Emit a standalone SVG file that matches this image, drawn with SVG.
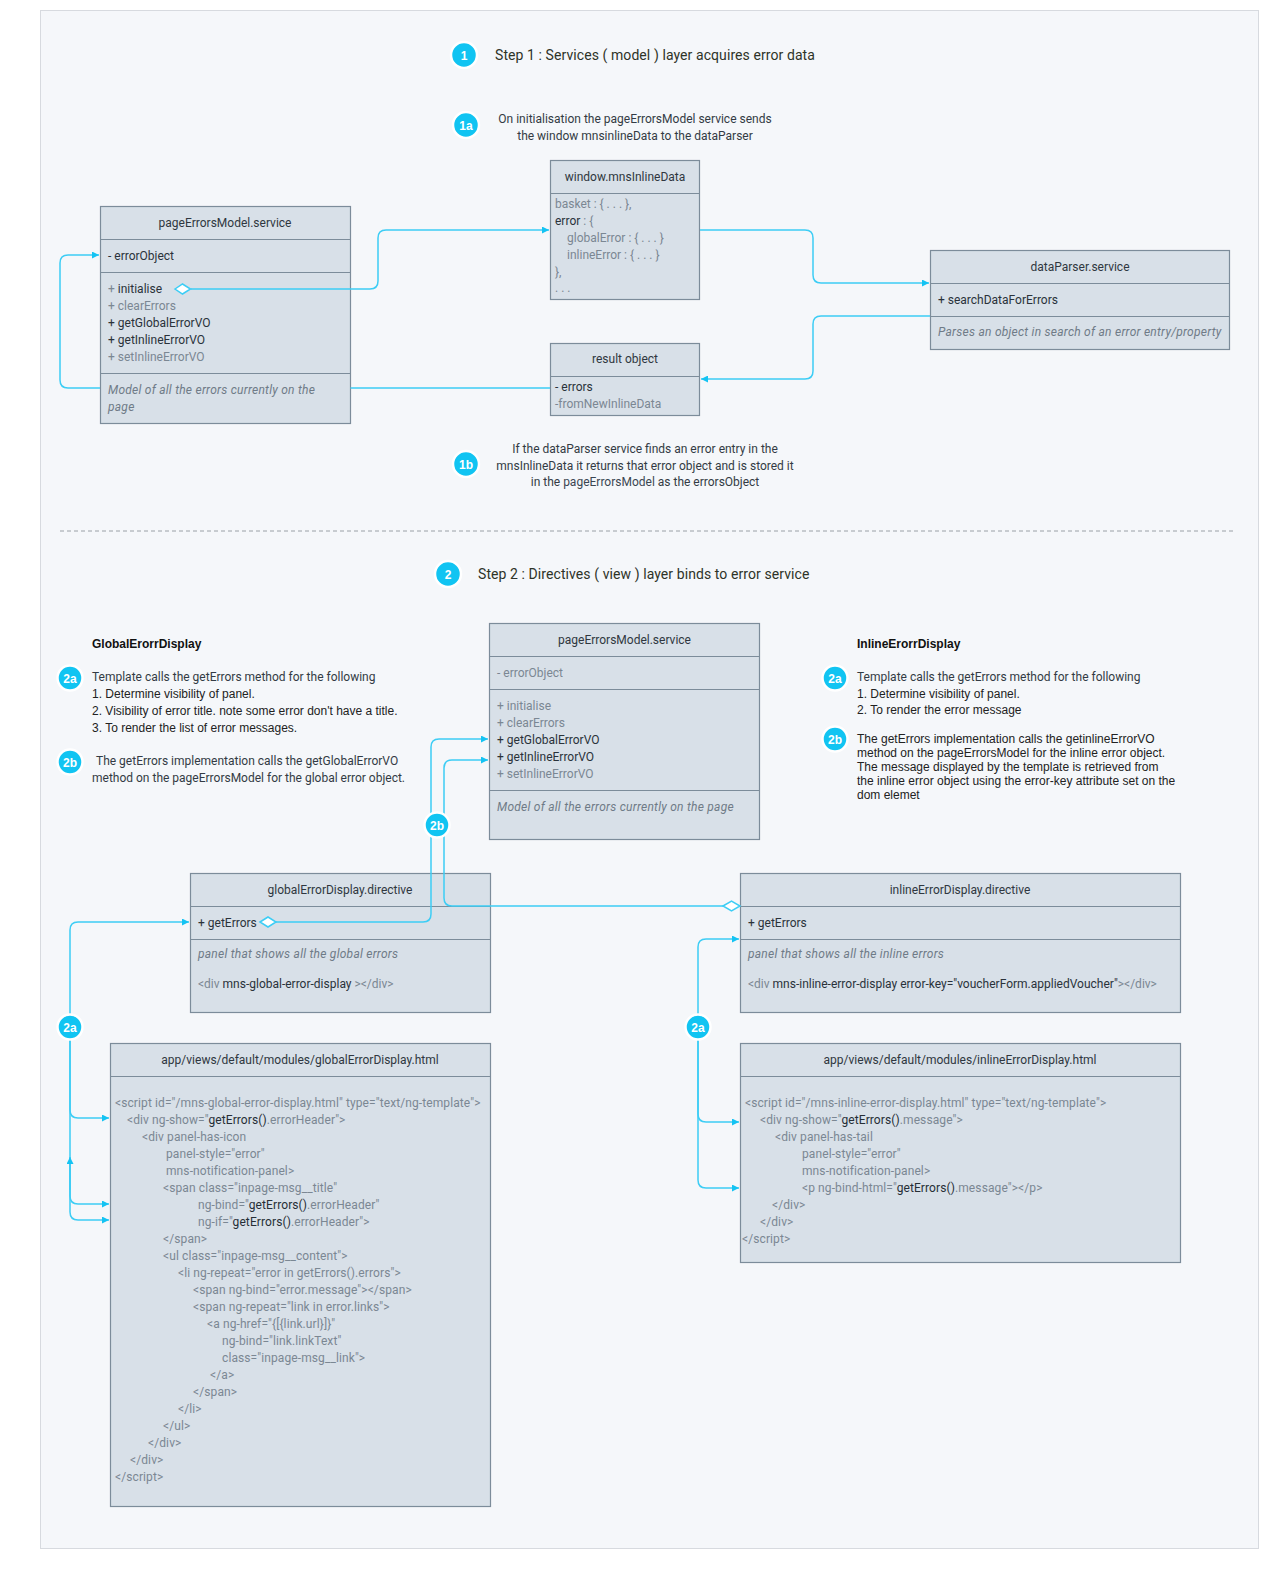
<svg xmlns="http://www.w3.org/2000/svg" width="1280" height="1570" viewBox="0 0 1280 1570">
<style>
  text { font-family: Roboto, "Liberation Sans", sans-serif; font-size: 12px; fill: #333b44; }
  .box { fill: #d8e0e8; stroke: #7c8c9a; stroke-width: 1.2; }
  .sep { stroke: #7c8c9a; stroke-width: 1.2; }
  .t { text-anchor: middle; fill: #2f3740; }
  .dk { fill: #2a323a; }
  .gr { fill: #7b8793; }
  .it { font-style: italic; fill: #6f7b87; letter-spacing: 0.25px; }
  .code { fill: #7b8793; letter-spacing: 0.1px; }
  .code tspan.k { fill: #262e36; }
  .note { font-family: "Liberation Sans", Arial, sans-serif; fill: #222; }
  .bold { font-family: "Liberation Sans", Arial, sans-serif; font-weight: bold; fill: #111; }
  .step { font-size: 14px; fill: #2e3328; letter-spacing: 0.08px; }
  .badge circle { fill: #11c4f2; stroke: #ffffff; stroke-width: 2.5; }
  .badge text { fill: #ffffff; font-weight: bold; font-size: 12px; text-anchor: middle; font-family: "Liberation Sans", Arial, sans-serif; }
  .wire { fill: none; stroke: #3dcdf5; stroke-width: 1.5; }
  .wire.arr { marker-end: url(#arrow); }
  .dia { fill: #ffffff; stroke: #3dcdf5; stroke-width: 1.5; }
</style>
<defs>
  <marker id="arrow" viewBox="0 0 10 10" refX="10" refY="5" markerWidth="7" markerHeight="7" markerUnits="userSpaceOnUse" orient="auto">
    <path d="M0,0 L10,5 L0,10 z" fill="#14c3f3"/>
  </marker>
</defs>

<!-- page frame -->
<rect x="0" y="0" width="1280" height="1570" fill="#ffffff"/>
<rect x="40.5" y="10.5" width="1218" height="1538" fill="#f5f7fa" stroke="#d7dadf" stroke-width="1"/>

<!-- step 1 heading and notes -->
<g id="step1">
  <g class="badge"><circle cx="464" cy="55" r="13"/><text x="464" y="59.5">1</text></g>
  <text class="step" x="495" y="60">Step 1 : Services ( model ) layer acquires error data</text>
</g>
<g id="note1a">
  <g class="badge"><circle cx="466" cy="125" r="13"/><text x="466" y="129.5">1a</text></g>
  <text x="635" y="123" text-anchor="middle">On initialisation the pageErrorsModel service sends</text>
  <text x="635" y="140" text-anchor="middle">the window mnsinlineData to the dataParser</text>
</g>
<g id="note1b">
  <g class="badge"><circle cx="466" cy="464" r="13"/><text x="466" y="468.5">1b</text></g>
  <text x="645" y="453" text-anchor="middle">If the dataParser service finds an error entry in the</text>
  <text x="645" y="470" text-anchor="middle">mnsInlineData it returns that error object and is stored it</text>
  <text x="645" y="486" text-anchor="middle">in the <tspan fill="#3b4652">pageErrorsModel</tspan> as the errorsObject</text>
</g>

<!-- section divider -->
<line x1="60" y1="531" x2="1236" y2="531" stroke="#9aa0a6" stroke-width="1" stroke-dasharray="4 3"/>

<!-- step 2 heading and notes -->
<g id="step2">
  <g class="badge"><circle cx="448" cy="574" r="13"/><text x="448" y="578.5">2</text></g>
  <text class="step" x="478" y="579">Step 2 : Directives ( view ) layer binds to error service</text>
</g>
<g id="globalNotes">
  <text class="bold" x="92" y="648">GlobalErorrDisplay</text>
  <g class="badge"><circle cx="70" cy="678" r="12.5"/><text x="70" y="682.5">2a</text></g>
  <text x="92" y="681">Template calls the getErrors method for the following</text>
  <text class="note" x="92" y="698">1. Determine visibility of panel.</text>
  <text class="note" x="92" y="715">2. Visibility of error title. note some error don't have a title.</text>
  <text class="note" x="92" y="732">3. To render the list of error messages.</text>
  <g class="badge"><circle cx="70" cy="762" r="12.5"/><text x="70" y="766.5">2b</text></g>
  <text x="96" y="765">The getErrors implementation calls the getGlobalErrorVO</text>
  <text x="92" y="782">method on the pageErrorsModel for the global error object.</text>
</g>
<g id="inlineNotes">
  <text class="bold" x="857" y="648">InlineErorrDisplay</text>
  <g class="badge"><circle cx="835" cy="678" r="12.5"/><text x="835" y="682.5">2a</text></g>
  <text x="857" y="681">Template calls the getErrors method for the following</text>
  <text class="note" x="857" y="698">1. Determine visibility of panel.</text>
  <text class="note" x="857" y="714">2. To render the error message</text>
  <g class="badge"><circle cx="835" cy="739" r="12.5"/><text x="835" y="743.5">2b</text></g>
  <text class="note" x="857" y="743">The getErrors implementation calls the getinlineErrorVO</text>
  <text class="note" x="857" y="757">method on the pageErrorsModel for the inline error object.</text>
  <text class="note" x="857" y="771">The message displayed by the template is retrieved from</text>
  <text class="note" x="857" y="785">the inline error object using the error-key attribute set on the</text>
  <text class="note" x="857" y="799">dom elemet</text>
</g>

<!-- step 1 classes -->
<g id="pageErrorsModel1">
  <rect class="box" x="100.5" y="206.5" width="250" height="217"/>
  <line class="sep" x1="100.5" y1="239.5" x2="350.5" y2="239.5"/>
  <line class="sep" x1="100.5" y1="272.5" x2="350.5" y2="272.5"/>
  <line class="sep" x1="100.5" y1="373.5" x2="350.5" y2="373.5"/>
  <text class="t" x="225" y="227">pageErrorsModel.service</text>
  <text class="dk" x="108" y="260">- errorObject</text>
  <text class="dk" x="108" y="293"><tspan class="gr">+ </tspan>initialise</text>
  <text class="gr" x="108" y="310">+ clearErrors</text>
  <text class="dk" x="108" y="327">+ getGlobalErrorVO</text>
  <text class="dk" x="108" y="344">+ getInlineErrorVO</text>
  <text class="gr" x="108" y="361">+ setInlineErrorVO</text>
  <text class="it" x="108" y="394">Model of all the errors currently on the</text>
  <text class="it" x="108" y="411">page</text>
</g>
<g id="windowData">
  <rect class="box" x="550.5" y="160.5" width="149" height="139"/>
  <line class="sep" x1="550.5" y1="193.5" x2="699.5" y2="193.5"/>
  <text class="t" x="625" y="181">window.mnsInlineData</text>
  <text class="gr" x="555" y="208">basket : { . . . },</text>
  <text class="gr" x="555" y="225"><tspan class="dk">error</tspan> : {</text>
  <text class="gr" x="567" y="242">globalError : { . . . }</text>
  <text class="gr" x="567" y="259">inlineError  : { . . . }</text>
  <text class="gr" x="555" y="276">},</text>
  <text class="gr" x="555" y="292">. . .</text>
</g>
<g id="resultObject">
  <rect class="box" x="550.5" y="343.5" width="149" height="72"/>
  <line class="sep" x1="550.5" y1="376.5" x2="699.5" y2="376.5"/>
  <text class="t" x="625" y="363">result object</text>
  <text class="dk" x="555" y="391">- errors</text>
  <text class="gr" x="555" y="408">-fromNewInlineData</text>
</g>
<g id="dataParser">
  <rect class="box" x="930.5" y="250.5" width="299" height="99"/>
  <line class="sep" x1="930.5" y1="283.5" x2="1229.5" y2="283.5"/>
  <line class="sep" x1="930.5" y1="316.5" x2="1229.5" y2="316.5"/>
  <text class="t" x="1080" y="271">dataParser.service</text>
  <text class="dk" x="938" y="304">+ searchDataForErrors</text>
  <text class="it" x="938" y="336">Parses an object in search of an error entry/property</text>
</g>

<!-- step 2 classes -->
<g id="pageErrorsModel2">
  <rect class="box" x="489.5" y="623.5" width="270" height="216"/>
  <line class="sep" x1="489.5" y1="656.5" x2="759.5" y2="656.5"/>
  <line class="sep" x1="489.5" y1="689.5" x2="759.5" y2="689.5"/>
  <line class="sep" x1="489.5" y1="790.5" x2="759.5" y2="790.5"/>
  <text class="t" x="624.5" y="644">pageErrorsModel.service</text>
  <text class="gr" x="497" y="677">- errorObject</text>
  <text class="gr" x="497" y="710">+ initialise</text>
  <text class="gr" x="497" y="727">+ clearErrors</text>
  <text class="dk" x="497" y="744">+ getGlobalErrorVO</text>
  <text class="dk" x="497" y="761">+ getInlineErrorVO</text>
  <text class="gr" x="497" y="778">+ setInlineErrorVO</text>
  <text class="it" x="497" y="811">Model of all the errors currently on the page</text>
</g>
<g id="globalDirective">
  <rect class="box" x="190.5" y="873.5" width="300" height="139"/>
  <line class="sep" x1="190.5" y1="906.5" x2="490.5" y2="906.5"/>
  <line class="sep" x1="190.5" y1="939.5" x2="490.5" y2="939.5"/>
  <text class="t" x="340" y="894">globalErrorDisplay.directive</text>
  <text class="dk" x="198" y="927">+ getErrors</text>
  <text class="it" x="198" y="958">panel that shows all the global errors</text>
  <text class="gr" x="198" y="988">&lt;div <tspan class="dk">mns-global-error-display</tspan> &gt;&lt;/div&gt;</text>
</g>
<g id="inlineDirective">
  <rect class="box" x="740.5" y="873.5" width="440" height="139"/>
  <line class="sep" x1="740.5" y1="906.5" x2="1180.5" y2="906.5"/>
  <line class="sep" x1="740.5" y1="939.5" x2="1180.5" y2="939.5"/>
  <text class="t" x="960" y="894">inlineErrorDisplay.directive</text>
  <text class="dk" x="748" y="927">+ getErrors</text>
  <text class="it" x="748" y="958">panel that shows all the inline errors</text>
  <text class="gr" x="748" y="988">&lt;div <tspan class="dk">mns-inline-error-display error-key="voucherForm.appliedVoucher"</tspan>&gt;&lt;/div&gt;</text>
</g>
<g id="globalTemplate">
  <rect class="box" x="110.5" y="1043.5" width="380" height="463"/>
  <line class="sep" x1="110.5" y1="1076.5" x2="490.5" y2="1076.5"/>
  <text class="t" x="300" y="1064">app/views/default/modules/globalErrorDisplay.html</text>
  <text class="code" x="115" y="1107">&lt;script id="/mns-global-error-display.html" type="text/ng-template"&gt;</text>
  <text class="code" x="127" y="1124">&lt;div ng-show="<tspan class="k">getErrors()</tspan>.errorHeader"&gt;</text>
  <text class="code" x="142" y="1141">&lt;div panel-has-icon</text>
  <text class="code" x="166" y="1158">panel-style="error"</text>
  <text class="code" x="166" y="1175">mns-notification-panel&gt;</text>
  <text class="code" x="163" y="1192">&lt;span class="inpage-msg__title"</text>
  <text class="code" x="198" y="1209">ng-bind="<tspan class="k">getErrors()</tspan>.errorHeader"</text>
  <text class="code" x="198" y="1226">ng-if="<tspan class="k">getErrors()</tspan>.errorHeader"&gt;</text>
  <text class="code" x="163" y="1243">&lt;/span&gt;</text>
  <text class="code" x="163" y="1260">&lt;ul class="inpage-msg__content"&gt;</text>
  <text class="code" x="178" y="1277">&lt;li ng-repeat="error in getErrors().errors"&gt;</text>
  <text class="code" x="193" y="1294">&lt;span ng-bind="error.message"&gt;&lt;/span&gt;</text>
  <text class="code" x="193" y="1311">&lt;span ng-repeat="link in error.links"&gt;</text>
  <text class="code" x="207" y="1328">&lt;a ng-href="{[{link.url}]}"</text>
  <text class="code" x="222" y="1345">ng-bind="link.linkText"</text>
  <text class="code" x="222" y="1362">class="inpage-msg__link"&gt;</text>
  <text class="code" x="210" y="1379">&lt;/a&gt;</text>
  <text class="code" x="193" y="1396">&lt;/span&gt;</text>
  <text class="code" x="178" y="1413">&lt;/li&gt;</text>
  <text class="code" x="163" y="1430">&lt;/ul&gt;</text>
  <text class="code" x="148" y="1447">&lt;/div&gt;</text>
  <text class="code" x="130" y="1464">&lt;/div&gt;</text>
  <text class="code" x="115" y="1481">&lt;/script&gt;</text>
</g>
<g id="inlineTemplate">
  <rect class="box" x="740.5" y="1043.5" width="440" height="219"/>
  <line class="sep" x1="740.5" y1="1076.5" x2="1180.5" y2="1076.5"/>
  <text class="t" x="960" y="1064">app/views/default/modules/inlineErrorDisplay.html</text>
  <text class="code" x="745" y="1107">&lt;script id="/mns-inline-error-display.html" type="text/ng-template"&gt;</text>
  <text class="code" x="760" y="1124">&lt;div ng-show="<tspan class="k">getErrors()</tspan>.message"&gt;</text>
  <text class="code" x="775" y="1141">&lt;div panel-has-tail</text>
  <text class="code" x="802" y="1158">panel-style="error"</text>
  <text class="code" x="802" y="1175">mns-notification-panel&gt;</text>
  <text class="code" x="802" y="1192">&lt;p ng-bind-html="<tspan class="k">getErrors()</tspan>.message"&gt;&lt;/p&gt;</text>
  <text class="code" x="772" y="1209">&lt;/div&gt;</text>
  <text class="code" x="760" y="1226">&lt;/div&gt;</text>
  <text class="code" x="742" y="1243">&lt;/script&gt;</text>
</g>

<!-- connectors -->
<g id="connectors">
  <!-- initialise sends inline data -->
  <path class="wire arr" d="M191,289 H370 Q378,289 378,281 V238 Q378,230 386,230 H549"/>
  <!-- inline data to parser -->
  <path class="wire arr" d="M700,230 H805 Q813,230 813,238 V275 Q813,283 821,283 H929"/>
  <!-- parser returns result -->
  <path class="wire arr" d="M930,316 H821 Q813,316 813,324 V371 Q813,379 805,379 H701"/>
  <!-- result stored as errorObject -->
  <path class="wire arr" d="M550,388 H350.5 M100,388 H68 Q60,388 60,380 V263 Q60,255 68,255 H99"/>
  <path class="dia" d="M175,289 L182.5,284 L190.5,289 L182.5,294 z"/>

  <!-- global directive calls getGlobalErrorVO -->
  <path class="wire arr" d="M276,922 H423 Q431,922 431,914 V747 Q431,739 439,739 H488"/>
  <!-- inline directive calls getInlineErrorVO -->
  <path class="wire arr" d="M723,906 H452 Q444,906 444,898 V768 Q444,760 452,760 H488"/>
  <path class="dia" d="M260,922 L268,917 L276,922 L268,927 z"/>
  <path class="dia" d="M723,906 L731.5,901 L740,906 L731.5,911 z"/>

  <!-- global template wiring -->
  <path class="wire arr" d="M70,1014 V930 Q70,922 78,922 H189"/>
  <path class="wire arr" d="M70,1040 V1110 Q70,1118 78,1118 H109"/>
  <path class="wire arr" d="M70,1040 V1196 Q70,1204 78,1204 H109"/>
  <path class="wire arr" d="M70,1160 V1212 Q70,1220 78,1220 H109"/>
  <path class="wire arr" d="M70,1190 V1157"/>

  <!-- inline template wiring -->
  <path class="wire arr" d="M698,1014 V947 Q698,939 706,939 H739"/>
  <path class="wire arr" d="M698,1040 V1114 Q698,1122 706,1122 H739"/>
  <path class="wire arr" d="M698,1040 V1180 Q698,1188 706,1188 H739"/>

  <g class="badge"><circle cx="437" cy="825" r="12.5"/><text x="437" y="829.5">2b</text></g>
  <g class="badge"><circle cx="70" cy="1027" r="12.5"/><text x="70" y="1031.5">2a</text></g>
  <g class="badge"><circle cx="698" cy="1027" r="12.5"/><text x="698" y="1031.5">2a</text></g>
</g>
</svg>
